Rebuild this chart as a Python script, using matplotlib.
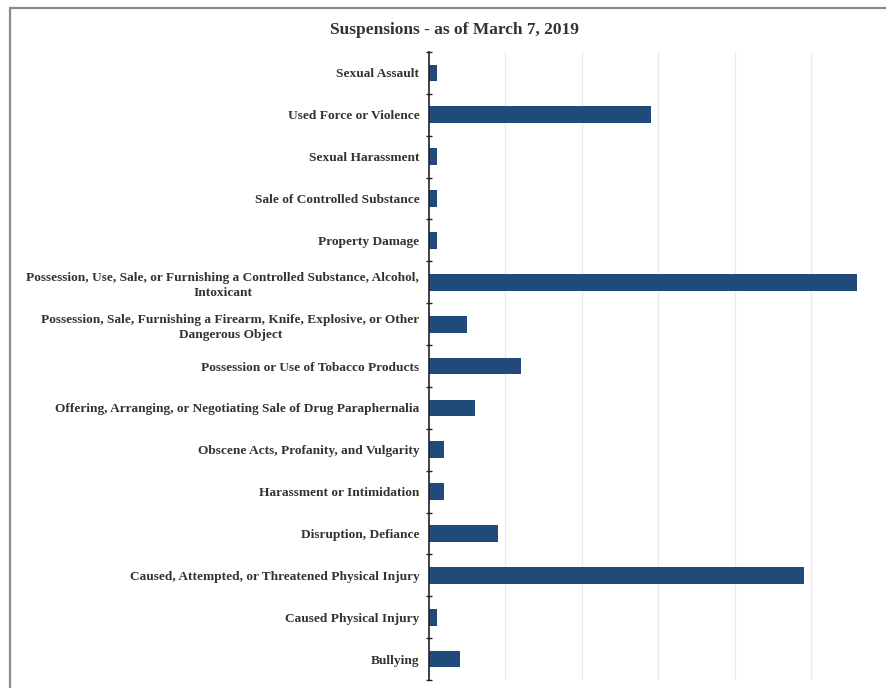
import matplotlib.pyplot as plt
import matplotlib.patches as mpatches
import numpy as np

# ================= data =================
categories = [
    "Sexual Assault",
    "Used Force or Violence",
    "Sexual Harassment",
    "Sale of Controlled Substance",
    "Property Damage",
    "Possession, Use, Sale, or Furnishing a Controlled Substance, Alcohol,\nIntoxicant",
    "Possession, Sale, Furnishing a Firearm, Knife, Explosive, or Other\nDangerous Object",
    "Possession or Use of Tobacco Products",
    "Offering, Arranging, or Negotiating Sale of Drug Paraphernalia",
    "Obscene Acts, Profanity, and Vulgarity",
    "Harassment or Intimidation",
    "Disruption, Defiance",
    "Caused, Attempted, or Threatened Physical Injury",
    "Caused Physical Injury",
    "Bullying",
]
counts = [1, 29, 1, 1, 1, 56, 5, 12, 6, 2, 2, 9, 49, 1, 4]
title = "Suspensions - as of March 7, 2019"
# ========================================

BAR_COLOR = "#1f4a7a"
FONT = "Liberation Serif"

fig = plt.figure(figsize=(8.86, 6.88), dpi=100)
fig.patch.set_facecolor("white")

# scanned page border (top and left edges)
fig.add_artist(mpatches.Rectangle((0.0113, -0.05), 1.1, 1.038, transform=fig.transFigure,
                                  fill=False, edgecolor="#8a8a8a", linewidth=1.6))

ax = fig.add_axes([0.4842, 0.0116, 0.518, 0.9128])
y = np.arange(len(categories))
ax.barh(y, counts, height=0.4, color=BAR_COLOR)

ax.set_xlim(0, 60)
ax.set_ylim(len(categories) - 0.5, -0.5)

ax.set_yticks(y)
ax.set_yticklabels(categories, fontfamily=FONT, fontweight="bold", fontsize=9.6,
                   color="#333333", multialignment="center", linespacing=1.35)
ax.tick_params(axis="y", which="major", length=0, pad=7)
ax.set_yticks(np.arange(-0.5, len(categories)), minor=True)
ax.tick_params(axis="y", which="minor", length=5, direction="inout", width=1, color="#222222")

ax.set_xticks([10, 20, 30, 40, 50])
ax.tick_params(axis="x", length=0, labelbottom=False)
ax.grid(axis="x", color="#ebebeb", linewidth=1)
ax.set_axisbelow(True)

for s in ["top", "right", "bottom"]:
    ax.spines[s].set_visible(False)
ax.spines["left"].set_color("#222222")
ax.spines["left"].set_linewidth(1.2)

fig.text(0.513, 0.957, title, ha="center", va="center", fontfamily=FONT,
         fontweight="bold", fontsize=12.5, color="#333333")

fig.savefig("out.png", dpi=100)
